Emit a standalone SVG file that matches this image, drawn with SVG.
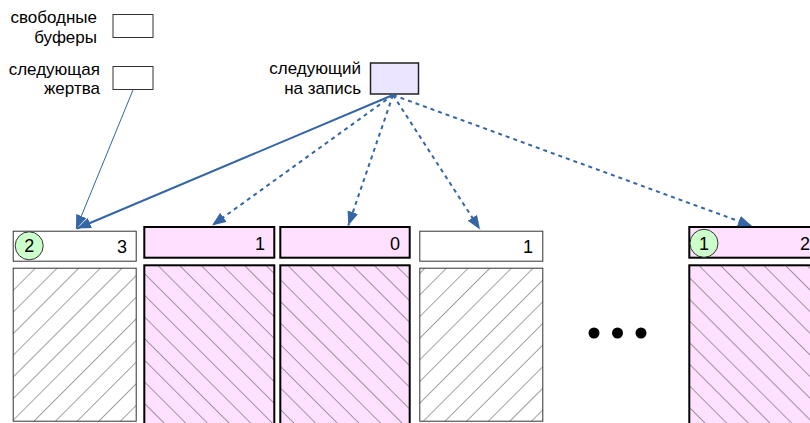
<svg xmlns="http://www.w3.org/2000/svg" width="810" height="423" viewBox="0 0 810 423">
<style>
text{font-family:"Liberation Sans",Arial,sans-serif;fill:#000}
.lbl{font-size:17px;text-anchor:end}
.num{font-size:18px;text-anchor:end}
.cnum{font-size:18px;text-anchor:middle}
.wh{fill:#fff;stroke:#333;stroke-width:1}
.pk{fill:#ffe0ff;stroke:#000;stroke-width:2}
.circ{fill:#ccffcc;stroke:#333;stroke-width:1}
.leg{fill:#fff;stroke:#333;stroke-width:1}
.conn{fill:none;stroke:#3465a4;stroke-width:2}
.dot{stroke-dasharray:4 4}
.thin{stroke-width:1}
</style>
<defs>
<pattern id="hw" patternUnits="userSpaceOnUse" width="15.3" height="15.3" patternTransform="rotate(45)">
<rect width="15.3" height="15.3" fill="#fff"/>
<line x1="0" y1="0" x2="0" y2="15.3" stroke="#444" stroke-width="1"/>
</pattern>
<pattern id="hp" patternUnits="userSpaceOnUse" width="15.3" height="15.3" patternTransform="rotate(-45)">
<rect width="15.3" height="15.3" fill="#ffe0ff"/>
<line x1="0" y1="0" x2="0" y2="15.3" stroke="#444" stroke-width="1"/>
</pattern>
<marker id="ah" markerUnits="userSpaceOnUse" markerWidth="15" markerHeight="12" refX="14" refY="5.5" orient="auto" viewBox="0 0 15 12">
<path d="M0,0 L14,5.5 L0,11 z" fill="#3465a4"/>
</marker>
</defs>

<g id="legend-free">
<text class="lbl" x="97" y="22.5">свободные</text>
<text class="lbl" x="97" y="42.5">буферы</text>
<rect class="leg" x="113" y="14.5" width="40" height="23"/>
</g>
<g id="legend-victim">
<text class="lbl" x="100" y="74.5">следующая</text>
<text class="lbl" x="100" y="94">жертва</text>
<rect class="leg" x="113" y="66.5" width="40" height="23"/>
</g>
<g id="next-write">
<text class="lbl" x="361" y="74">следующий</text>
<text class="lbl" x="361" y="93.5">на запись</text>
<rect x="370.5" y="63" width="48" height="31" fill="#ebe5ff" stroke="#222" stroke-width="1.5"/>
</g>

<g id="buf1">
<rect class="wh" x="13.2" y="231.2" width="123" height="30"/>
<circle class="circ" cx="29.2" cy="245.8" r="14"/>
<text class="cnum" x="29.2" y="252.3">2</text>
<text class="num" x="127" y="253">3</text>
<rect x="13.2" y="268.2" width="123" height="153" fill="url(#hw)" stroke="#333" stroke-width="1"/>
</g>
<g id="buf2">
<rect class="pk" x="144.3" y="227" width="130" height="30.7"/>
<text class="num" x="265" y="249.5">1</text>
<rect x="144.3" y="265.3" width="130" height="170" fill="url(#hp)" stroke="#000" stroke-width="2"/>
</g>
<g id="buf3">
<rect class="pk" x="280.3" y="227" width="129.4" height="30.7"/>
<text class="num" x="400" y="249.5">0</text>
<rect x="280.3" y="265.3" width="129.4" height="170" fill="url(#hp)" stroke="#000" stroke-width="2"/>
</g>
<g id="buf4">
<rect class="wh" x="419.8" y="231.2" width="123" height="30"/>
<text class="num" x="533" y="253">1</text>
<rect x="419.8" y="268.2" width="123" height="153" fill="url(#hw)" stroke="#333" stroke-width="1"/>
</g>
<g id="buf5">
<rect class="pk" x="689.3" y="227" width="130" height="30.7"/>
<circle class="circ" cx="704" cy="243.3" r="14"/>
<text class="cnum" x="704" y="249.8">1</text>
<text class="num" x="810" y="249.5">2</text>
<rect x="689.3" y="265.3" width="130" height="170" fill="url(#hp)" stroke="#000" stroke-width="2"/>
</g>
<g id="ellipsis" fill="#000">
<circle cx="594" cy="333" r="5.5"/>
<circle cx="617.5" cy="333" r="5.5"/>
<circle cx="641" cy="333" r="5.5"/>
</g>

<g id="connectors">
<line class="conn thin" x1="133" y1="90" x2="76" y2="229" marker-end="url(#ah)"/>
<line class="conn" x1="393" y1="95" x2="77" y2="228.5" marker-end="url(#ah)"/>
<line class="conn dot" x1="393" y1="95" x2="212" y2="225.5" marker-end="url(#ah)"/>
<line class="conn dot" x1="393" y1="95" x2="348.3" y2="225.5" marker-end="url(#ah)"/>
<line class="conn dot" x1="393" y1="95" x2="480" y2="229.5" marker-end="url(#ah)"/>
<line class="conn dot" x1="393" y1="95" x2="752" y2="226" marker-end="url(#ah)"/>
</g>
</svg>
